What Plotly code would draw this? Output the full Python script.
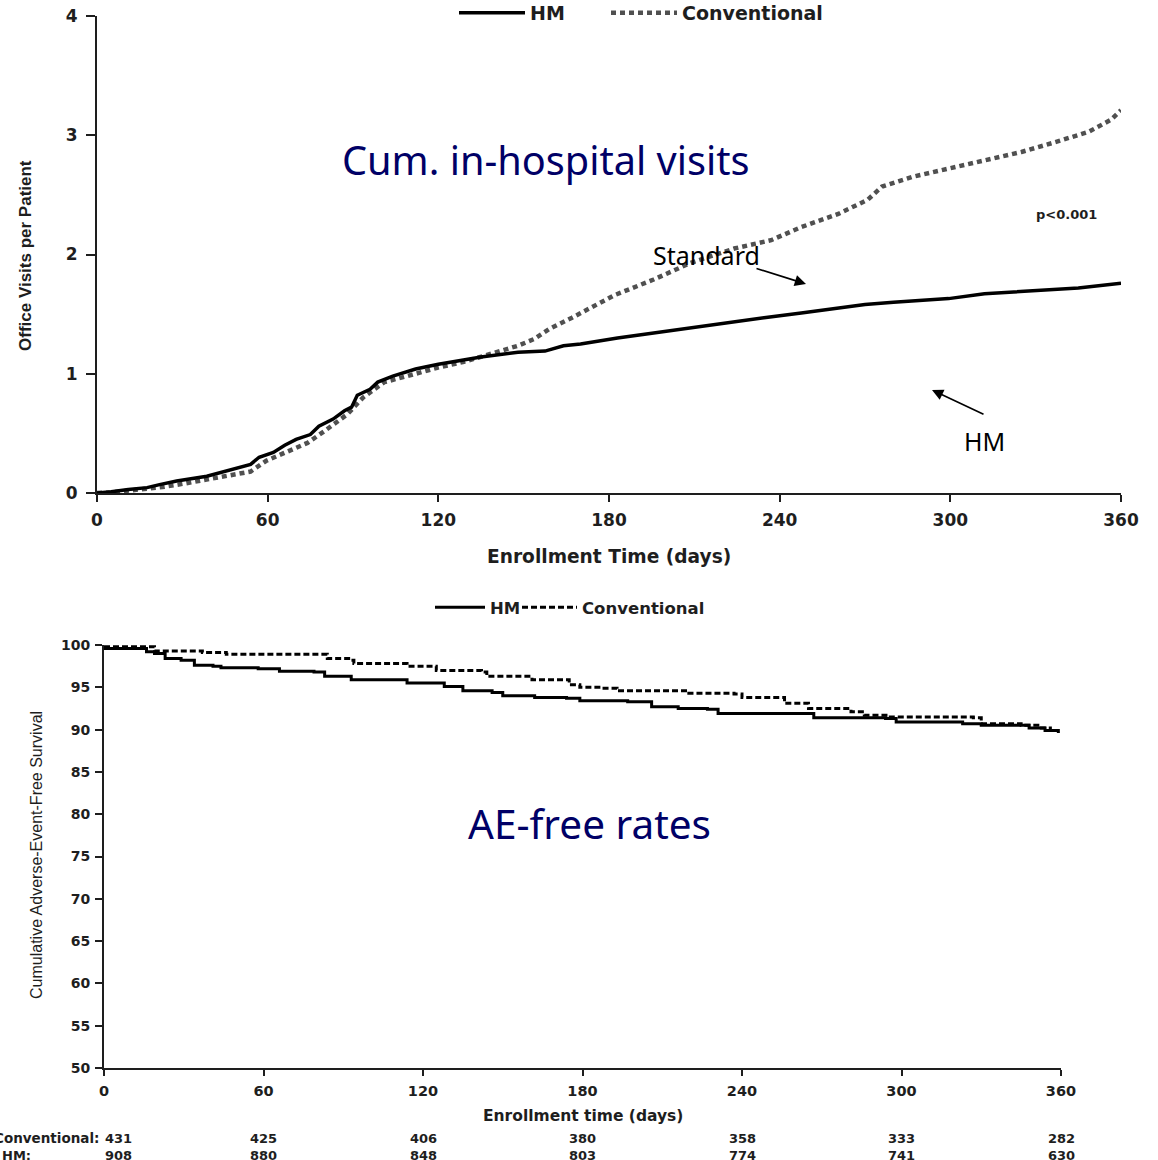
import plotly.graph_objects as go

W, H = 1158, 1160

# ---------------- data: top panel (cumulative office visits per patient) ----------------
visit_days_hm = [0, 5, 11, 17.6, 22, 28, 38.6, 46, 54, 57, 62, 66, 70, 75, 78, 83, 87, 89.5, 91.5, 96,
                 98.7, 104, 112, 120, 135, 148, 157.5, 164, 170, 183, 195, 208.7, 222, 234.5, 247.6,
                 260.6, 270, 280, 299.4, 312, 332, 345, 360]
visits_hm = [0, 0.01, 0.03, 0.045, 0.07, 0.10, 0.14, 0.185, 0.24, 0.30, 0.34, 0.40, 0.45, 0.49, 0.56,
             0.62, 0.69, 0.72, 0.82, 0.87, 0.93, 0.98, 1.04, 1.08, 1.14, 1.18, 1.19, 1.235, 1.25, 1.30,
             1.34, 1.39, 1.43, 1.47, 1.51, 1.55, 1.58, 1.60, 1.63, 1.67, 1.70, 1.72, 1.76]

visit_days_conv = [0, 4.6, 15, 23, 31, 38.6, 46, 54, 59.5, 67, 74, 80, 88, 93.5, 101, 109, 119.6, 129,
                   140.5, 148, 153.6, 159, 167, 175, 182, 195.7, 208.7, 224, 237, 247.6, 260.6, 271,
                   276, 286.5, 299.4, 312.4, 325, 338, 348.7, 356.5, 360]
visits_conv = [0, 0.003, 0.03, 0.05, 0.08, 0.115, 0.14, 0.18, 0.27, 0.345, 0.42, 0.52, 0.66, 0.80,
               0.93, 0.98, 1.05, 1.10, 1.18, 1.235, 1.29, 1.375, 1.47, 1.57, 1.66, 1.79, 1.93, 2.05,
               2.12, 2.23, 2.34, 2.46, 2.57, 2.65, 2.72, 2.79, 2.86, 2.95, 3.03, 3.13, 3.21]

# ---------------- data: bottom panel (adverse-event-free survival, %) ----------------
ae_days_hm = [0, 16, 19, 23, 29, 34, 41, 44, 58, 66, 79, 83, 93, 114, 128, 135, 146, 150, 162, 174,
              179, 197, 206, 216, 227, 231, 267, 294, 298, 323, 330, 348, 354, 359]
ae_free_hm = [99.6, 99.2, 99.0, 98.4, 98.2, 97.6, 97.5, 97.3, 97.2, 96.9, 96.8, 96.3, 95.9, 95.5,
              95.1, 94.6, 94.4, 94.0, 93.8, 93.7, 93.4, 93.3, 92.7, 92.5, 92.4, 91.9, 91.4, 91.3,
              90.9, 90.7, 90.5, 90.2, 89.9, 89.6]

ae_days_conv = [0, 19, 37, 46, 84, 93, 94, 114, 125, 142, 144, 161, 175, 179, 187, 193, 220, 237,
                240, 256, 265, 281, 286, 295, 327, 330, 345, 352, 356]
ae_free_conv = [99.8, 99.3, 99.1, 98.9, 98.4, 98.2, 97.8, 97.5, 97.0, 96.8, 96.3, 95.9, 95.3, 95.0,
                94.9, 94.6, 94.3, 94.2, 93.8, 93.1, 92.5, 92.1, 91.7, 91.5, 91.4, 90.7, 90.5, 90.2, 89.8]

# numbers at risk
risk_days = [0, 60, 120, 180, 240, 300, 360]
risk_conv = [431, 425, 406, 380, 358, 333, 282]
risk_hm = [908, 880, 848, 803, 774, 741, 630]

day_ticks = [0, 60, 120, 180, 240, 300, 360]
visit_ticks = [0, 1, 2, 3, 4]
ae_ticks = [50, 55, 60, 65, 70, 75, 80, 85, 90, 95, 100]


def px(x):
    return x / W


def py(y):
    return 1 - y / H


INK = "#1e1e1e"
BOLD = dict(family="DejaVu Sans", weight="bold", color=INK)
ARIAL_B = dict(family="Liberation Sans, Arial", weight="bold", color=INK)
ANN = dict(family="Noto Sans", color="#000066")

fig = go.Figure()

# top panel
fig.add_trace(go.Scatter(x=visit_days_conv, y=visits_conv, mode="lines", name="Conventional",
                         line=dict(color="#505050", width=4.5, dash="5px,4px"),
                         xaxis="x", yaxis="y", legend="legend3"))
fig.add_trace(go.Scatter(x=visit_days_hm, y=visits_hm, mode="lines", name="HM",
                         line=dict(color="#000000", width=3.5),
                         xaxis="x", yaxis="y", legend="legend"))
# bottom panel
fig.add_trace(go.Scatter(x=ae_days_conv, y=ae_free_conv, mode="lines", name="Conventional",
                         line=dict(color="#000000", width=3, dash="6px,3px", shape="hv"),
                         xaxis="x2", yaxis="y2", legend="legend4"))
fig.add_trace(go.Scatter(x=ae_days_hm, y=ae_free_hm, mode="lines", name="HM",
                         line=dict(color="#000000", width=3, shape="hv"),
                         xaxis="x2", yaxis="y2", legend="legend2"))

axis_common = dict(showline=True, linecolor=INK, linewidth=2, ticks="outside", tickcolor=INK,
                   tickwidth=2, showgrid=False, zeroline=False, fixedrange=True, automargin=False)


def leg(x_px, y_px, size, itemwidth):
    return dict(x=px(x_px), xanchor="left", y=py(y_px), yanchor="top",
                font=dict(size=size, **BOLD), itemwidth=itemwidth,
                bgcolor="rgba(0,0,0,0)", borderwidth=0, tracegroupgap=0)


fig.update_layout(
    template="none",
    width=W, height=H,
    margin=dict(l=0, r=0, t=0, b=0, autoexpand=False),
    paper_bgcolor="white", plot_bgcolor="white",
    xaxis=dict(domain=[px(97), px(1121)], range=[0, 360], tickvals=day_ticks, anchor="y",
               ticklen=7, tickfont=dict(size=17, **BOLD), ticklabelstandoff=4, **axis_common),
    yaxis=dict(domain=[py(493), py(16)], range=[0, 4], tickvals=visit_ticks, anchor="x",
               ticklen=9, tickfont=dict(size=17, **BOLD), ticklabelstandoff=5, **axis_common),
    xaxis2=dict(domain=[px(104), px(1061)], range=[0, 360], tickvals=day_ticks, anchor="y2",
                ticklen=6, tickfont=dict(size=14.5, **BOLD), ticklabelstandoff=3, **axis_common),
    yaxis2=dict(domain=[py(1068), py(645)], range=[50, 100], tickvals=ae_ticks, anchor="x2",
                ticklen=7, tickfont=dict(size=14, **BOLD), ticklabelstandoff=2, **axis_common),
    legend=leg(454, -6, 19, 66),
    legend3=leg(606, -6, 19, 66),
    legend2=leg(430, 590, 16.5, 50),
    legend4=leg(517, 590, 16.5, 55),
    showlegend=True,
)

annotations = [
    # axis titles
    dict(text="Office Visits per Patient", x=px(25), y=py(256), textangle=-90,
         font=dict(size=17, **ARIAL_B)),
    dict(text="Enrollment Time (days)", x=px(609), y=py(556), font=dict(size=18.6, **BOLD)),
    dict(text="Cumulative Adverse-Event-Free Survival", x=px(37), y=py(855), textangle=-90,
         font=dict(family="Liberation Sans, Arial", size=16, color=INK)),
    dict(text="Enrollment time (days)", x=px(583), y=py(1116), font=dict(size=15.5, **BOLD)),
    # panel labels
    dict(text="Cum. in-hospital visits", x=px(546), y=py(160), font=dict(size=39.7, **ANN)),
    dict(text="AE-free rates", x=px(589), y=py(823), font=dict(size=40.5, **ANN)),
    dict(text="p<0.001", x=px(1066), y=py(215), font=dict(size=13, **BOLD)),
    dict(text="Standard", x=px(706), y=py(255), font=dict(family="Noto Sans", size=25, color="#000000")),
    dict(text="HM", x=px(985), y=py(441), font=dict(family="Noto Sans", size=25, color="#000000")),
    # arrows
    dict(text="", x=px(806), y=py(284), showarrow=True, ax=-51, ay=-16, arrowhead=2,
         arrowsize=1.4, arrowwidth=1.6, arrowcolor="#000000"),
    dict(text="", x=px(932), y=py(390), showarrow=True, ax=53, ay=25, arrowhead=2,
         arrowsize=1.4, arrowwidth=1.6, arrowcolor="#000000"),
    # number-at-risk row labels
    dict(text="Conventional:", x=px(101), y=py(1138), xanchor="right", font=dict(size=13.5, **BOLD)),
    dict(text="HM:", x=px(0), y=py(1155), xanchor="left", font=dict(size=13, **BOLD)),
]
for a in annotations:
    a.setdefault("xref", "paper")
    a.setdefault("yref", "paper")
    a.setdefault("showarrow", False)
    a.setdefault("xanchor", "center")
    a.setdefault("yanchor", "middle")

for d, c, h in zip(risk_days, risk_conv, risk_hm):
    shift = 14 if d == 0 else 0
    annotations.append(dict(text=str(c), x=d, xref="x2", y=py(1138), yref="paper", showarrow=False,
                            xanchor="center", yanchor="middle", xshift=shift,
                            font=dict(size=13, **BOLD)))
    annotations.append(dict(text=str(h), x=d, xref="x2", y=py(1155), yref="paper", showarrow=False,
                            xanchor="center", yanchor="middle", xshift=shift,
                            font=dict(size=13, **BOLD)))

fig.update_layout(annotations=annotations)

fig.write_html("out.html")
